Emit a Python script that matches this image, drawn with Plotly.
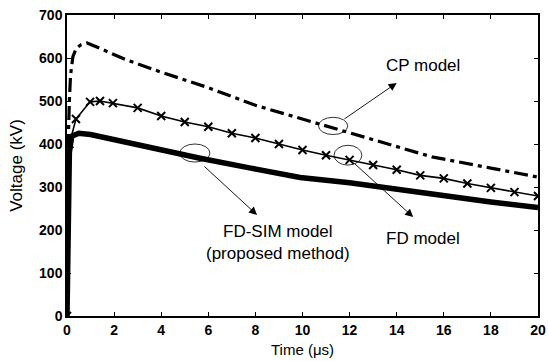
import plotly.graph_objects as go

# ---- data ----
cp_t = [0, 0.03, 0.06, 0.1, 0.15, 0.25, 0.4, 0.6, 0.85, 1.5, 2.5, 4, 6, 8, 10, 11.7, 13.4, 15.5, 18, 20]
cp_v = [0, 300, 420, 500, 560, 603, 623, 631, 635, 620, 596, 567, 531, 490, 458, 432, 405, 370, 344, 323]

fd_t = [0, 0.1, 0.38, 0.98, 1.4, 1.95, 3, 4, 5, 6, 7, 8, 9, 10, 11, 12, 13, 14, 15, 16, 17, 18, 19, 20]
fd_v = [0, 400, 458, 498, 500, 495, 484, 465, 451, 440, 425, 414, 400, 386, 374, 363, 351, 340, 327, 320, 308, 298, 288, 279]

sim_t = [0, 0.05, 0.1, 0.2, 0.5, 1, 2, 3.5, 5.65, 7.8, 9.9, 12, 14, 16.3, 18, 20]
sim_v = [0, 200, 380, 418, 425, 422, 410, 392, 367, 344, 322, 310, 294, 277, 265, 252]

x_ticks = list(range(0, 21, 2))
y_ticks = list(range(0, 701, 100))

fig = go.Figure()
fig.add_trace(go.Scatter(x=cp_t, y=cp_v, mode="lines",
                         line=dict(color="black", width=3.2, dash="14px,5px,4px,5px"),
                         name="CP model"))
fig.add_trace(go.Scatter(x=fd_t, y=fd_v, mode="lines+markers",
                         line=dict(color="black", width=1.6),
                         marker=dict(symbol="x-thin", size=8, color="black",
                                     line=dict(width=2, color="black")),
                         name="FD model"))
fig.add_trace(go.Scatter(x=sim_t, y=sim_v, mode="lines",
                         line=dict(color="black", width=5.5),
                         name="FD-SIM model"))

# ellipses (data coords)
ellipses = [(11.3, 442, 0.62, 20), (11.93, 374, 0.59, 23), (5.43, 379, 0.64, 21)]
for cx, cy, hw, hh in ellipses:
    fig.add_shape(type="circle", xref="x", yref="y",
                  x0=cx - hw, x1=cx + hw, y0=cy - hh, y1=cy + hh,
                  line=dict(color="black", width=0.8))

arrows = [((11.72, 456), (14.0, 542)), ((12.14, 358), (14.7, 230)), ((5.77, 351), (8.07, 235))]
for (tx, ty), (hx, hy) in arrows:
    fig.add_annotation(x=hx, y=hy, ax=tx, ay=ty, xref="x", yref="y", axref="x", ayref="y",
                       text="", showarrow=True, arrowhead=2, arrowsize=1.8, arrowwidth=0.9,
                       arrowcolor="black")

afont = dict(family="Liberation Sans, Arial", size=17, color="black")
fig.add_annotation(x=15.1, y=582, xref="x", yref="y", text="CP model", showarrow=False, font=afont)
fig.add_annotation(x=15.1, y=181, xref="x", yref="y", text="FD model", showarrow=False, font=afont)
fig.add_annotation(x=8.95, y=172, xref="x", yref="y", text="FD-SIM model<br>(proposed method)",
                   showarrow=False, font=afont)

tickfont = dict(family="Liberation Sans", size=14, color="black", weight=700)
fig.update_xaxes(range=[0, 20], tickvals=x_ticks, ticks="inside", ticklen=4, tickwidth=1,
                 tickcolor="black", showline=True, linecolor="black", linewidth=1.5,
                 mirror="ticks", showgrid=False, zeroline=False, tickfont=tickfont,
                 automargin=False,
                 title=dict(text="Time (μs)", font=dict(family="Liberation Sans, Arial", size=15, color="black"),
                            standoff=8))
fig.update_yaxes(range=[0, 700], tickvals=y_ticks, ticks="inside", ticklen=4, tickwidth=1,
                 tickcolor="black", showline=True, linecolor="black", linewidth=1.5,
                 mirror="ticks", showgrid=False, zeroline=False, tickfont=tickfont,
                 automargin=False,
                 title=dict(text="Voltage (kV)", font=dict(family="Liberation Sans, Arial", size=17, color="black"),
                            standoff=12))

fig.update_layout(width=548, height=361, margin=dict(l=67, r=10, t=15, b=45),
                  plot_bgcolor="white", paper_bgcolor="white", showlegend=False)

fig.write_html("out.html")
